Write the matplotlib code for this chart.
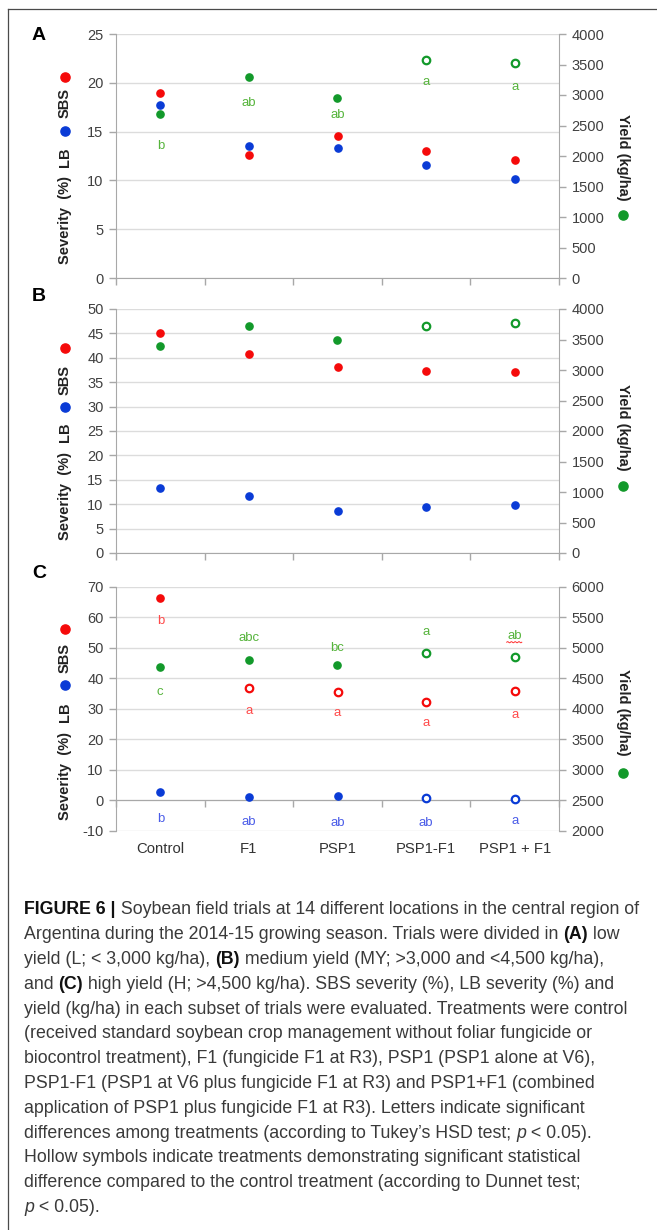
import numpy as np
import matplotlib
matplotlib.use("Agg")
import matplotlib.pyplot as plt
from matplotlib.lines import Line2D

plt.rcParams['font.family'] = ['Liberation Sans', 'DejaVu Sans']
plt.rcParams['axes.unicode_minus'] = False

# -----------------------------
# DATA
# -----------------------------
cats = ["Control", "F1", "PSP1", "PSP1-F1", "PSP1 + F1"]

# panel A - low yield
a_sbs = [19.0, 12.6, 14.6, 13.0, 12.1]
a_lb = [17.7, 13.5, 13.3, 11.6, 10.1]
a_yield = [2690, 3295, 2955, 3575, 3520]
a_yield_hollow = [False, False, False, True, True]
a_yield_let = ["b", "ab", "ab", "a", "a"]
a_yield_let_y = [2165, 2865, 2665, 3205, 3135]

# panel B - medium yield
b_sbs = [45.0, 40.7, 38.1, 37.3, 37.1]
b_lb = [13.3, 11.6, 8.6, 9.4, 9.9]
b_yield = [3390, 3715, 3490, 3715, 3765]
b_yield_hollow = [False, False, False, True, True]

# panel C - high yield
c_sbs = [66.2, 36.7, 35.5, 32.3, 35.7]
c_sbs_hollow = [False, True, True, True, True]
c_sbs_let = ["b", "a", "a", "a", "a"]
c_sbs_let_y = [58.9, 29.3, 28.7, 25.3, 28.0]
c_lb = [2.8, 1.1, 1.5, 0.6, 0.3]
c_lb_hollow = [False, False, False, True, True]
c_lb_let = ["b", "ab", "ab", "ab", "a"]
c_lb_let_y = [-6.0, -7.0, -7.4, -7.4, -6.7]
c_yield = [4690, 4805, 4720, 4915, 4850]
c_yield_hollow = [False, False, False, True, True]
c_yield_let = ["c", "abc", "bc", "a", "ab"]
c_yield_let_y = [4280, 5165, 4995, 5250, 5195]

RED, BLUE, GREEN = "#f50a0a", "#0a3bd6", "#12992a"
RED_T, BLUE_T, GREEN_T = "#ff4a4a", "#4a5ce8", "#56b43c"
GRID, SPINE, TICK = "#dcdcdc", "#a8a8a8", "#404040"

W, H = 657, 1230
fig = plt.figure(figsize=(W / 100, H / 100), dpi=100)


def fx(px):
    return px / W


def fy(py):
    return 1 - py / H


def points(ax, vals, hollow, color):
    x = np.arange(len(vals))
    vals = np.asarray(vals, float)
    hollow = np.asarray(hollow, bool)
    ax.plot(x[~hollow], vals[~hollow], 'o', color=color, ms=5.2, mec=color, zorder=4)
    ax.plot(x[hollow], vals[hollow], 'o', mfc='white', mec=color, ms=5.4, mew=1.6, zorder=4)


def letters(ax, labs, ys, color):
    for i, (s, y) in enumerate(zip(labs, ys)):
        ax.text(i, y, s, color=color, fontsize=9.5, ha='center', va='center', zorder=5)


def panel(top, bot, ylim, ystep, y2lim, y2step, xaxis_at=None):
    ax = fig.add_axes([fx(116), fy(bot), fx(559) - fx(116), fy(top) - fy(bot)])
    ax.set_xlim(-0.5, 4.5)
    ax.set_ylim(*ylim)
    ax.set_yticks(np.arange(ylim[0], ylim[1] + 0.1, ystep))
    ax.yaxis.grid(True, color=GRID, lw=1.0)
    ax.set_axisbelow(True)
    ax.set_xticks(np.arange(-0.5, 4.6, 1.0))
    ax.set_xticklabels([])
    ax.tick_params(axis='x', length=5, color=SPINE, width=1)
    ax.tick_params(axis='y', length=5, color=SPINE, width=1, labelsize=10.5,
                   labelcolor=TICK, pad=4)
    for s in ['top', 'right']:
        ax.spines[s].set_visible(False)
    ax.spines['left'].set_color(SPINE)
    ax.spines['bottom'].set_color(SPINE)
    if xaxis_at is not None:
        ax.spines['bottom'].set_position(('data', xaxis_at))
    ax2 = ax.twinx()
    ax2.set_ylim(*y2lim)
    ax2.set_yticks(np.arange(y2lim[0], y2lim[1] + 1, y2step))
    ax2.tick_params(axis='y', length=5, color=SPINE, width=1, labelsize=10.5,
                    labelcolor=TICK, pad=4)
    for s in ['top', 'left', 'bottom']:
        ax2.spines[s].set_visible(False)
    ax2.spines['right'].set_color(SPINE)
    return ax, ax2


def side_labels(letter, letter_y, sbs_dot, sbs_y, lb_dot, lb_y, sev_y, yld_y, yld_dot):
    fig.text(fx(32), fy(letter_y), letter, fontsize=14, fontweight='bold', va='center')
    fig.text(fx(65), fy(sev_y), "Severity  (%)", rotation=90, fontsize=10.5,
             fontweight='bold', ha='center', va='center', color='#222222')
    fig.text(fx(65), fy(lb_y), "LB", rotation=90, fontsize=10.5,
             fontweight='bold', ha='center', va='center', color='#222222')
    fig.text(fx(65), fy(sbs_y), "SBS", rotation=90, fontsize=10.5,
             fontweight='bold', ha='center', va='center', color='#222222')
    fig.text(fx(623), fy(yld_y), "Yield (kg/ha)", rotation=270, fontsize=10.5,
             fontweight='bold', ha='center', va='center', color='#222222')
    for (px, py, c) in [(65, sbs_dot, RED), (65, lb_dot, BLUE), (623, yld_dot, GREEN)]:
        fig.add_artist(Line2D([fx(px)], [fy(py)], marker='o', ms=6.6, color=c,
                              transform=fig.transFigure))


# -----------------------------
# PANEL A
# -----------------------------
axA, axA2 = panel(34, 278, (0, 25), 5, (0, 4000), 500)
points(axA, a_sbs, [False] * 5, RED)
points(axA, a_lb, [False] * 5, BLUE)
points(axA2, a_yield, a_yield_hollow, GREEN)
letters(axA2, a_yield_let, a_yield_let_y, GREEN_T)
side_labels("A", 36, 77, 103, 131, 157.5, 220, 157, 215)

# -----------------------------
# PANEL B
# -----------------------------
axB, axB2 = panel(309, 553, (0, 50), 5, (0, 4000), 500)
points(axB, b_sbs, [False] * 5, RED)
points(axB, b_lb, [False] * 5, BLUE)
points(axB2, b_yield, b_yield_hollow, GREEN)
side_labels("B", 296, 348, 380, 407, 432.5, 496, 427, 486)

# -----------------------------
# PANEL C
# -----------------------------
axC, axC2 = panel(586.7, 830.7, (-10, 70), 10, (2000, 6000), 500, xaxis_at=0)
points(axC, c_sbs, c_sbs_hollow, RED)
points(axC, c_lb, c_lb_hollow, BLUE)
points(axC2, c_yield, c_yield_hollow, GREEN)
letters(axC, c_sbs_let, c_sbs_let_y, RED_T)
letters(axC, c_lb_let, c_lb_let_y, BLUE_T)
letters(axC2, c_yield_let, c_yield_let_y, GREEN_T)
for i, c in enumerate(cats):
    axC.annotate(c, xy=(i, 0), xycoords=axC.get_xaxis_transform(),
                 xytext=(0, -13), textcoords='offset points',
                 ha='center', va='center', fontsize=10.7, color='#333333')
side_labels("C", 573, 629, 658, 685, 712, 776, 712, 773)

# spell-check squiggle under the last "ab" in panel C
sq_x = np.linspace(3.91, 4.08, 33)
sq_y = 5090 + 9 * np.sin(np.linspace(0, 8 * np.pi, 33))
axC2.plot(sq_x, sq_y, color='#ff3030', lw=0.7, zorder=5)

# -----------------------------
# FRAME
# -----------------------------
fig.add_artist(Line2D([fx(8), fx(657)], [fy(8.5), fy(8.5)], color='#4a4a4a', lw=0.9,
                      transform=fig.transFigure))
fig.add_artist(Line2D([fx(8), fx(8)], [fy(8.5), fy(1230)], color='#4a4a4a', lw=0.9,
                      transform=fig.transFigure))

# -----------------------------
# CAPTION
# -----------------------------
cap = [
    [("FIGURE 6 |", 'b'), (" Soybean field trials at 14 different locations in the central region of", 'n')],
    [("Argentina during the 2014-15 growing season. Trials were divided in ", 'n'), ("(A)", 'b'), (" low", 'n')],
    [("yield (L; < 3,000 kg/ha), ", 'n'), ("(B)", 'b'), (" medium yield (MY; >3,000 and <4,500 kg/ha),", 'n')],
    [("and ", 'n'), ("(C)", 'b'), (" high yield (H; >4,500 kg/ha). SBS severity (%), LB severity (%) and", 'n')],
    [("yield (kg/ha) in each subset of trials were evaluated. Treatments were control", 'n')],
    [("(received standard soybean crop management without foliar fungicide or", 'n')],
    [("biocontrol treatment), F1 (fungicide F1 at R3), PSP1 (PSP1 alone at V6),", 'n')],
    [("PSP1-F1 (PSP1 at V6 plus fungicide F1 at R3) and PSP1+F1 (combined", 'n')],
    [("application of PSP1 plus fungicide F1 at R3). Letters indicate significant", 'n')],
    [("differences among treatments (according to Tukey\u2019s HSD test; ", 'n'), ("p", 'i'), (" < 0.05).", 'n')],
    [("Hollow symbols indicate treatments demonstrating significant statistical", 'n')],
    [("difference compared to the control treatment (according to Dunnet test;", 'n')],
    [("p", 'i'), (" < 0.05).", 'n')],
]

renderer = fig.canvas.get_renderer()
cap_size = 12.75
for k, line in enumerate(cap):
    x = 24.0
    y = 910 + k * 24.8
    for txt, st in line:
        t = fig.text(fx(x), fy(y), txt, fontsize=cap_size, va='center', ha='left',
                     fontweight='bold' if st == 'b' else 'normal',
                     fontstyle='italic' if st == 'i' else 'normal',
                     color='#111111' if st == 'b' else '#3a3a3a')
        x += t.get_window_extent(renderer).width

fig.savefig("out.png", dpi=100)
